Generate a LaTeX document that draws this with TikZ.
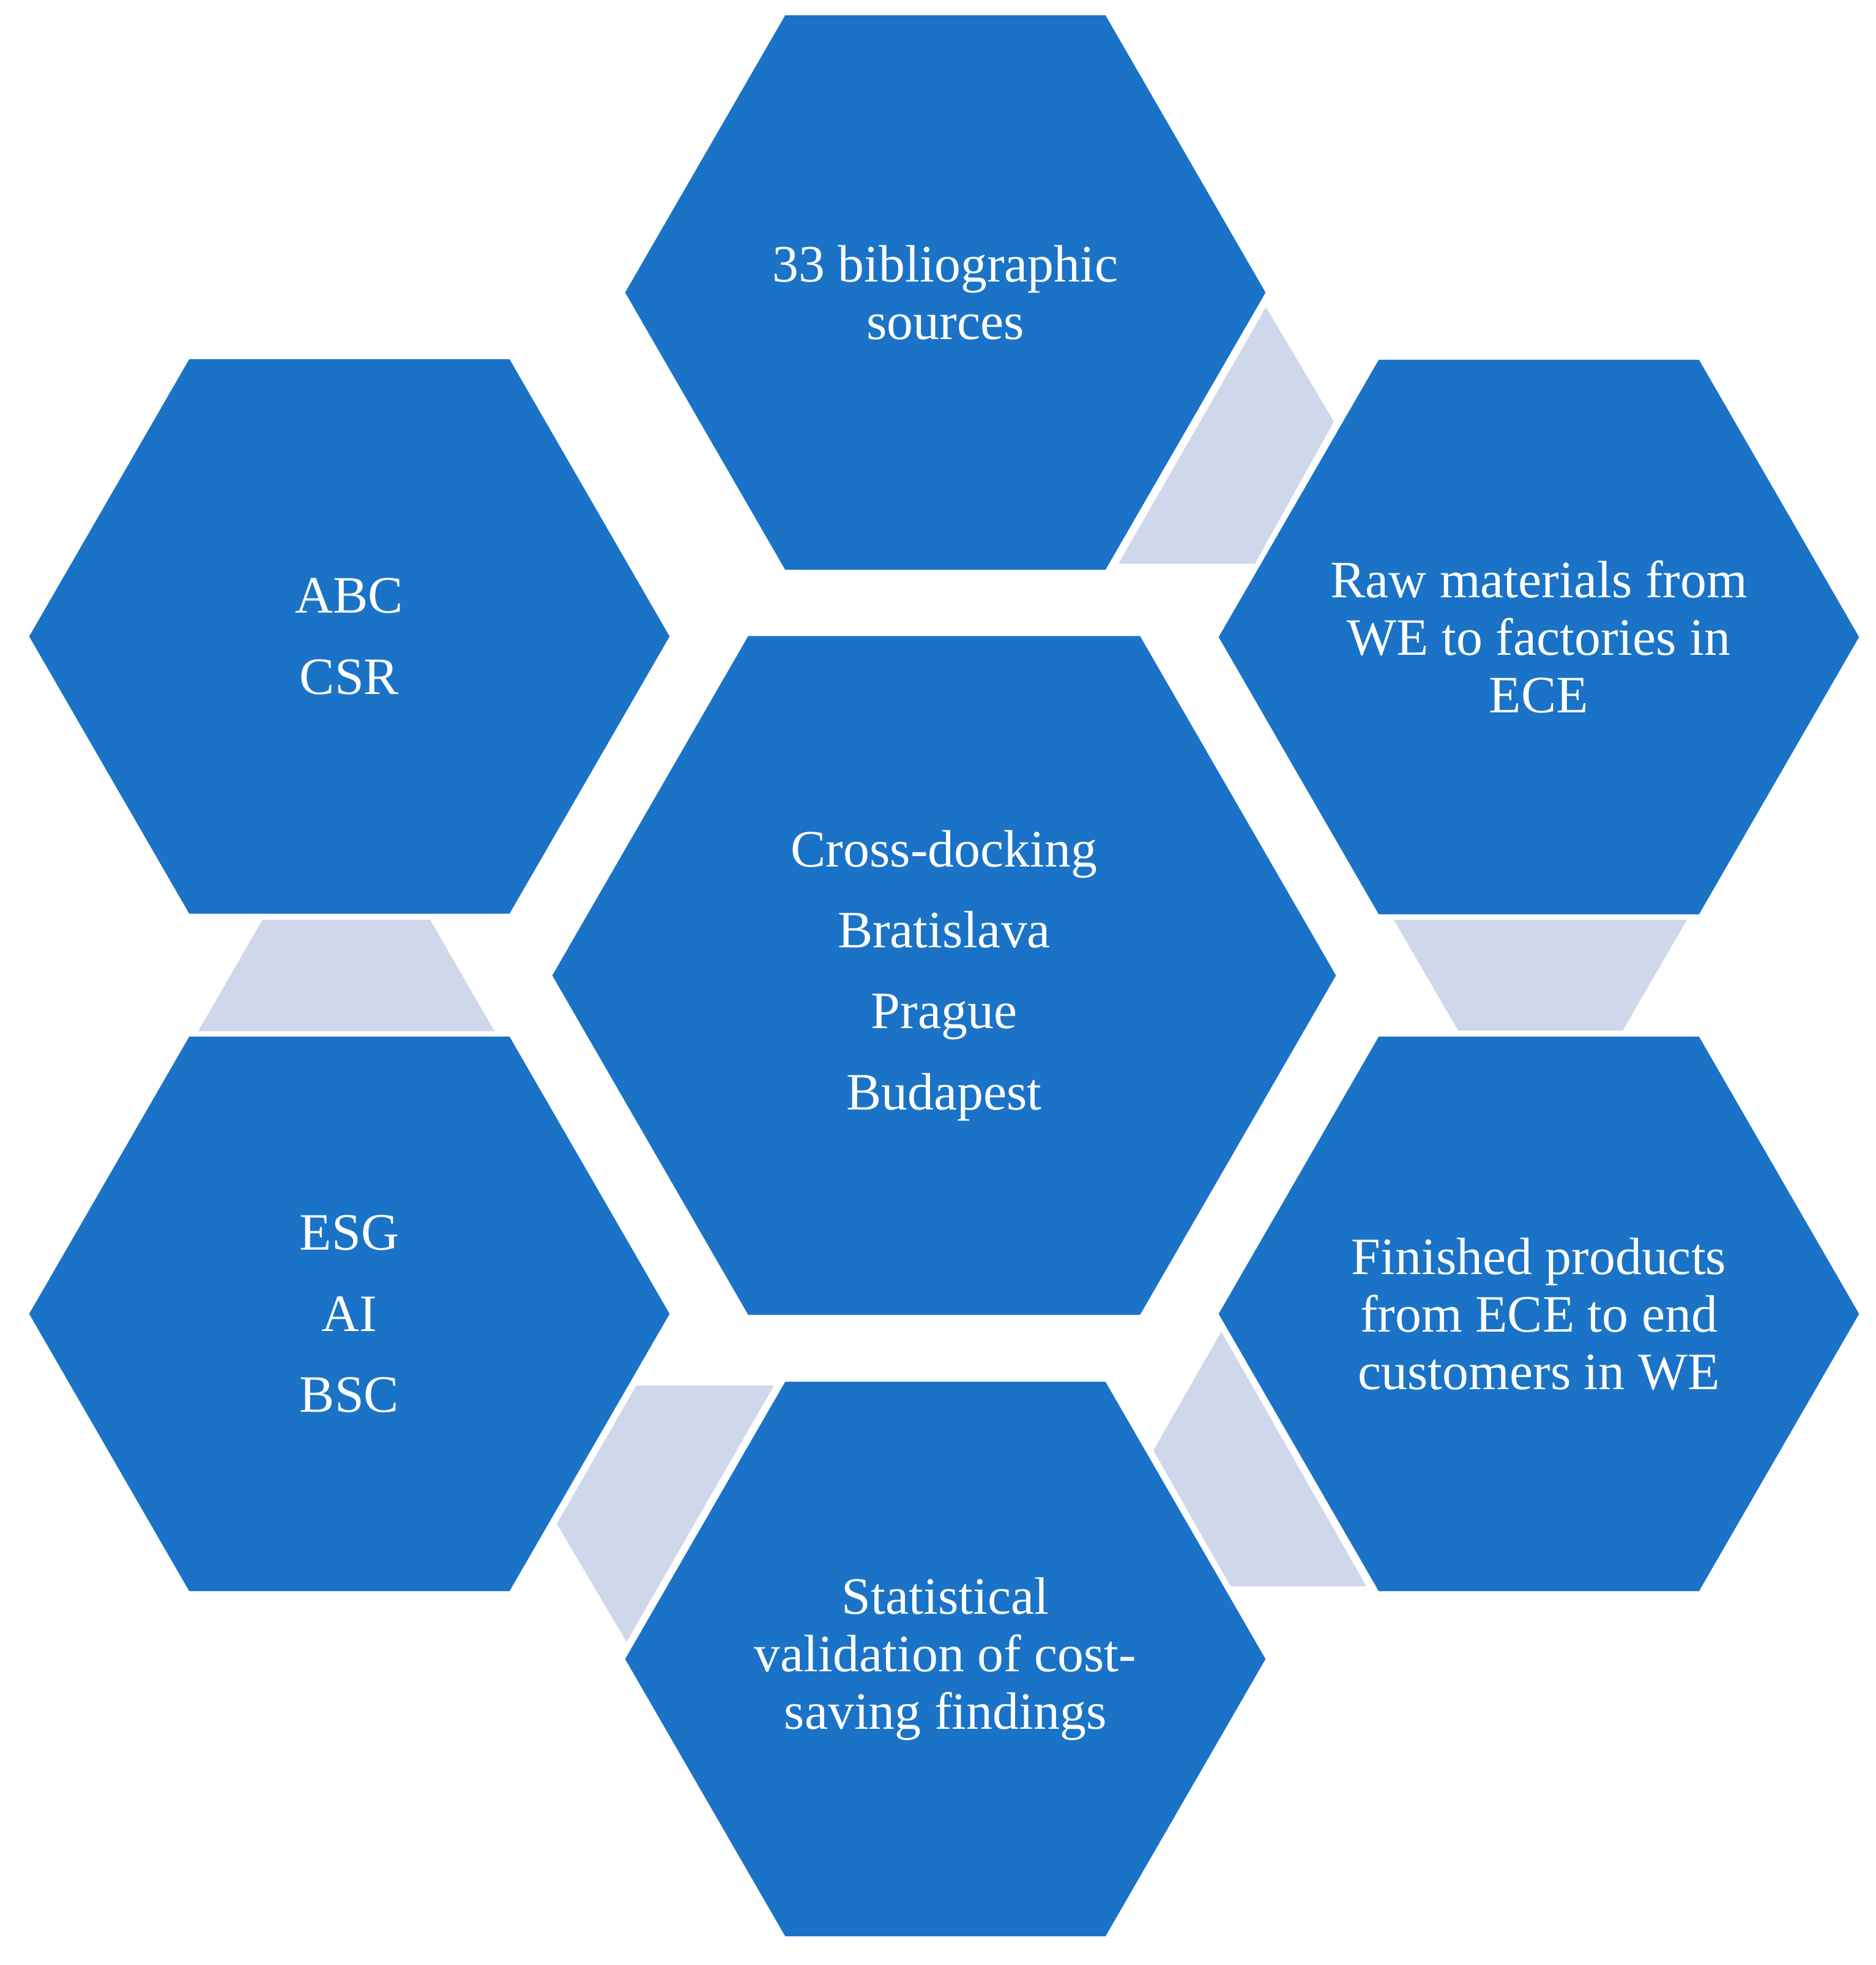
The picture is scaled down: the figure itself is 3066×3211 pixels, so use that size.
\documentclass[tikz,border=0pt]{standalone}
\usepackage{fontspec}
\setmainfont{Liberation Serif}
\usetikzlibrary{shapes.geometric}
\definecolor{hexblue}{RGB}{26,115,198}
\definecolor{connfill}{RGB}{207,215,234}
\begin{document}
\begin{tikzpicture}[x=0.01cm,y=-0.01cm,
  hexbox/.style={regular polygon, regular polygon sides=6, minimum size=10.46cm,
    inner sep=0pt, fill=hexblue},
  bigbox/.style={hexbox, minimum size=12.8cm},
  hextext/.style={text=white, align=center, inner sep=0pt,
    font=\fontsize{24.4pt}{26.75pt}\selectfont},
  listtext/.style={hextext, font=\fontsize{24.4pt}{37.6pt}\selectfont},
  connshape/.style={fill=connfill}]
\fill[white] (0,0) rectangle (3066,3211);
\useasboundingbox (0,0) rectangle (3066,3211);

% connector shapes
\fill[connshape] (2069,502) -- (2180,689) -- (2051,921) -- (1828,921) -- cycle;
\fill[connshape] (2278,1503) -- (2757,1503) -- (2652,1684) -- (2383,1684) -- cycle;
\fill[connshape] (1996,2176) -- (1885,2370) -- (2011,2592) -- (2233,2592) -- cycle;
\fill[connshape] (1040,2264) -- (1265,2264) -- (1024,2683) -- (910,2490) -- cycle;
\fill[connshape] (429,1503) -- (703,1503) -- (808,1685) -- (324,1685) -- cycle;

% hexagons
\node[bigbox] (center) at (1543,1594) {};
\node[hexbox] (top) at (1545,478) {};
\node[hexbox] (topright) at (2515,1041) {};
\node[hexbox] (botright) at (2515,2147) {};
\node[hexbox] (bottom) at (1545,2711) {};
\node[hexbox] (botleft) at (571,2147) {};
\node[hexbox] (topleft) at (571,1040) {};

% texts
\node[listtext] (centertext) at (center.center) {Cross-docking\\Bratislava\\Prague\\Budapest};
\node[hextext] (toptext) at (top.center) {33 bibliographic\\sources};
\node[hextext] (toprighttext) at (topright.center) {Raw materials from\\WE to factories in\\ECE};
\node[hextext] (botrighttext) at (botright.center) {Finished products\\from ECE to end\\customers in WE};
\node[hextext] (bottomtext) at (bottom.center) {Statistical\\validation of cost-\\saving findings};
\node[listtext] (botlefttext) at (botleft.center) {ESG\\AI\\BSC};
\node[listtext] (toplefttext) at (topleft.center) {ABC\\CSR};
\end{tikzpicture}
\end{document}
